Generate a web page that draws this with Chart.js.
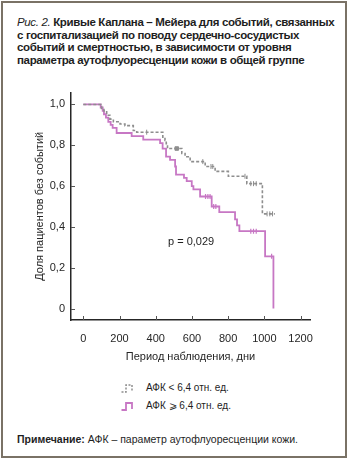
<!DOCTYPE html>
<html lang="ru">
<head>
<meta charset="utf-8">
<script src="https://cdn.jsdelivr.net/npm/chart.js@4.4.1/dist/chart.umd.min.js"></script>
<style>
  body { margin: 0; width: 350px; height: 465px; background: #fff; position: relative; overflow: hidden;
         font-family: 'Liberation Sans', Arial, sans-serif; color: #1e1e1e; }
  .frame { position: absolute; left: 1px; top: 1px; width: 342px; height: 453px; border: 2px solid #7a7266; }
  .title { position: absolute; left: 17px; top: 16px; font-size: 11.5px; line-height: 12.5px; letter-spacing: -0.35px; font-weight: bold; white-space: nowrap; }
  .title i { font-weight: normal; }
  #wrap { position: absolute; left: 0; top: 80px; width: 330px; height: 290px; }
  .pval { position: absolute; left: 168px; top: 235px; font-size: 11px; }
  .legend { position: absolute; left: 121px; font-size: 10px; line-height: 12px; white-space: nowrap; }
  .legend svg { vertical-align: middle; margin-right: 11px; }
  .note { position: absolute; left: 17px; top: 433px; font-size: 10.5px; white-space: nowrap; }
</style>
</head>
<body>
<div class="frame"></div>
<div class="title"><i>Рис. 2.</i> Кривые Каплана – Мейера для событий, связанных<br>с госпитализацией по поводу сердечно-сосудистых<br>событий и смертностью, в зависимости от уровня<br>параметра аутофлуоресценции кожи в общей группе</div>
<div id="wrap"><canvas id="km"></canvas></div>
<div class="pval">p = 0,029</div>
<div class="legend" style="top:382px"><svg width="14" height="10"><path d="M0.5 9 H5 V2 H11 V8" fill="none" stroke="#8e8e8e" stroke-width="1.5" stroke-dasharray="2 1.5"/></svg>АФК &lt; 6,4 отн. ед.</div>
<div class="legend" style="top:400px"><svg width="14" height="10"><path d="M0.5 9 H5 V2 H11 V8" fill="none" stroke="#c777c4" stroke-width="1.8"/></svg>АФК ⩾ 6,4 отн. ед.</div>
<div class="note"><b>Примечание:</b> АФК – параметр аутофлуоресценции кожи.</div>

<script>
// АФК < 6,4 (серая пунктирная)
const lowDays = [0, 96, 101, 114, 129, 147, 166, 203, 230, 276, 295, 439, 451, 458, 465, 544, 562, 590, 673, 728, 801, 903, 989, 1058];
const lowSurv = [1.0, 0.99, 0.98, 0.968, 0.947, 0.928, 0.915, 0.904, 0.896, 0.872, 0.864, 0.84, 0.824, 0.808, 0.784, 0.76, 0.744, 0.72, 0.696, 0.672, 0.648, 0.612, 0.464, 0.464];
const lowCensorDays = [350, 660, 705, 715, 893, 925, 940, 955, 1015, 1030, 1045];
const lowCensorSurv = [0.864, 0.72, 0.696, 0.696, 0.648, 0.612, 0.612, 0.612, 0.464, 0.464, 0.464];
const lowMarkDays = [516];
const lowMarkSurv = [0.784];

// АФК >= 6,4 (розовая)
const highDays = [0, 96, 107, 114, 125, 138, 151, 162, 184, 267, 331, 424, 438, 457, 479, 507, 512, 556, 571, 599, 608, 645, 709, 751, 838, 849, 862, 1004, 1050];
const highSurv = [1.0, 0.985, 0.968, 0.952, 0.935, 0.915, 0.9, 0.885, 0.86, 0.845, 0.828, 0.81, 0.784, 0.744, 0.728, 0.696, 0.656, 0.64, 0.624, 0.6, 0.584, 0.549, 0.5, 0.472, 0.437, 0.408, 0.379, 0.256, 0.0];
const highCensorDays = [675, 688, 700, 720, 732, 925, 940, 955, 1040];
const highCensorSurv = [0.549, 0.549, 0.549, 0.5, 0.5, 0.379, 0.379, 0.379, 0.256];

const xTicks = [0, 200, 400, 600, 800, 1000, 1200];
const xTickLabels = ['0', '200', '400', '600', '800', '1000', '1200'];
const yTicks = [0, 0.2, 0.4, 0.6, 0.8, 1.0];
const yTickLabels = ['0', '0,2', '0,4', '0,6', '0,8', '1,0'];

const GRAY = '#8e8e8e';
const PINK = '#c777c4';
const AXIS = '#262626';

const pts = (xs, ys) => xs.map((d, i) => ({ x: d, y: ys[i] }));

const innerTicks = {
    id: 'innerTicks',
    afterDraw(chart) {
        const { ctx, scales: { x, y }, chartArea } = chart;
        ctx.save();
        ctx.strokeStyle = '#555';
        ctx.lineWidth = 1;
        ctx.beginPath();
        xTicks.forEach(v => {
            const px = Math.round(x.getPixelForValue(v)) + 0.5;
            ctx.moveTo(px, chartArea.bottom);
            ctx.lineTo(px, chartArea.bottom - 4);
        });
        yTicks.forEach(v => {
            const py = Math.round(y.getPixelForValue(v)) + 0.5;
            ctx.moveTo(chartArea.left, py);
            ctx.lineTo(chartArea.left + 4, py);
        });
        ctx.stroke();
        ctx.restore();
    }
};

const ctx = document.getElementById('km').getContext('2d');
new Chart(ctx, {
    type: 'scatter',
    data: {
        datasets: [
        {
            label: 'АФК < 6,4 отн. ед.',
            data: pts(lowDays, lowSurv),
            showLine: true,
            stepped: true,
            borderColor: GRAY,
            borderWidth: 1.6,
            borderDash: [3, 2],
            pointRadius: 0,
        },
        {
            label: 'АФК ⩾ 6,4 отн. ед.',
            data: pts(highDays, highSurv),
            showLine: true,
            stepped: true,
            borderColor: PINK,
            borderWidth: 1.8,
            pointRadius: 0,
        },
        {
            data: pts(lowCensorDays, lowCensorSurv),
            pointStyle: 'line',
            rotation: 90,
            pointRadius: 2.5,
            borderColor: GRAY,
            borderWidth: 1,
        },
        {
            data: pts(lowMarkDays, lowMarkSurv),
            pointStyle: 'rect',
            pointRadius: 2.5,
            backgroundColor: GRAY,
            borderColor: GRAY,
        },
        {
            data: pts(highCensorDays, highCensorSurv),
            pointStyle: 'line',
            rotation: 90,
            pointRadius: 2.5,
            borderColor: PINK,
            borderWidth: 1.2,
        },
        ]
    },
    options: {
        responsive: true,
        maintainAspectRatio: false,
        animation: false,
        layout: { padding: { top: 8, right: 20, bottom: 0, left: 0 } },
        plugins: { legend: { display: false }, tooltip: { enabled: false } },
        scales: {
            x: {
                type: 'linear',
                min: -68, max: 1252,
                afterBuildTicks: s => { s.ticks = xTicks.map(v => ({ value: v })); },
                afterFit: s => { s.height = 50; },
                ticks: {
                    padding: 12,
                    color: AXIS,
                    font: { family: "'Liberation Sans', Arial", size: 11 },
                    callback: v => xTickLabels[xTicks.indexOf(v)],
                },
                grid: { display: false, drawTicks: false },
                border: { display: true, color: AXIS, width: 1.5 },
                title: {
                    display: true,
                    text: 'Период наблюдения, дни',
                    color: AXIS,
                    font: { family: "'Liberation Sans', Arial", size: 11 },
                    padding: { top: 0, bottom: 6 },
                },
            },
            y: {
                type: 'linear',
                min: -0.056, max: 1.058,
                afterBuildTicks: s => { s.ticks = yTicks.map(v => ({ value: v })); },
                afterFit: s => { s.width = 71; },
                ticks: {
                    padding: 6,
                    color: AXIS,
                    font: { family: "'Liberation Sans', Arial", size: 11 },
                    callback: v => yTickLabels[yTicks.indexOf(v)],
                },
                grid: { display: false, drawTicks: false },
                border: { display: true, color: AXIS, width: 1.5 },
                title: {
                    display: true,
                    text: 'Доля пациентов без событий',
                    color: AXIS,
                    font: { family: "'Liberation Sans', Arial", size: 11 },
                    padding: { top: 33, bottom: 0 },
                },
            },
        },
    },
    plugins: [innerTicks],
});
</script>
</body>
</html>
